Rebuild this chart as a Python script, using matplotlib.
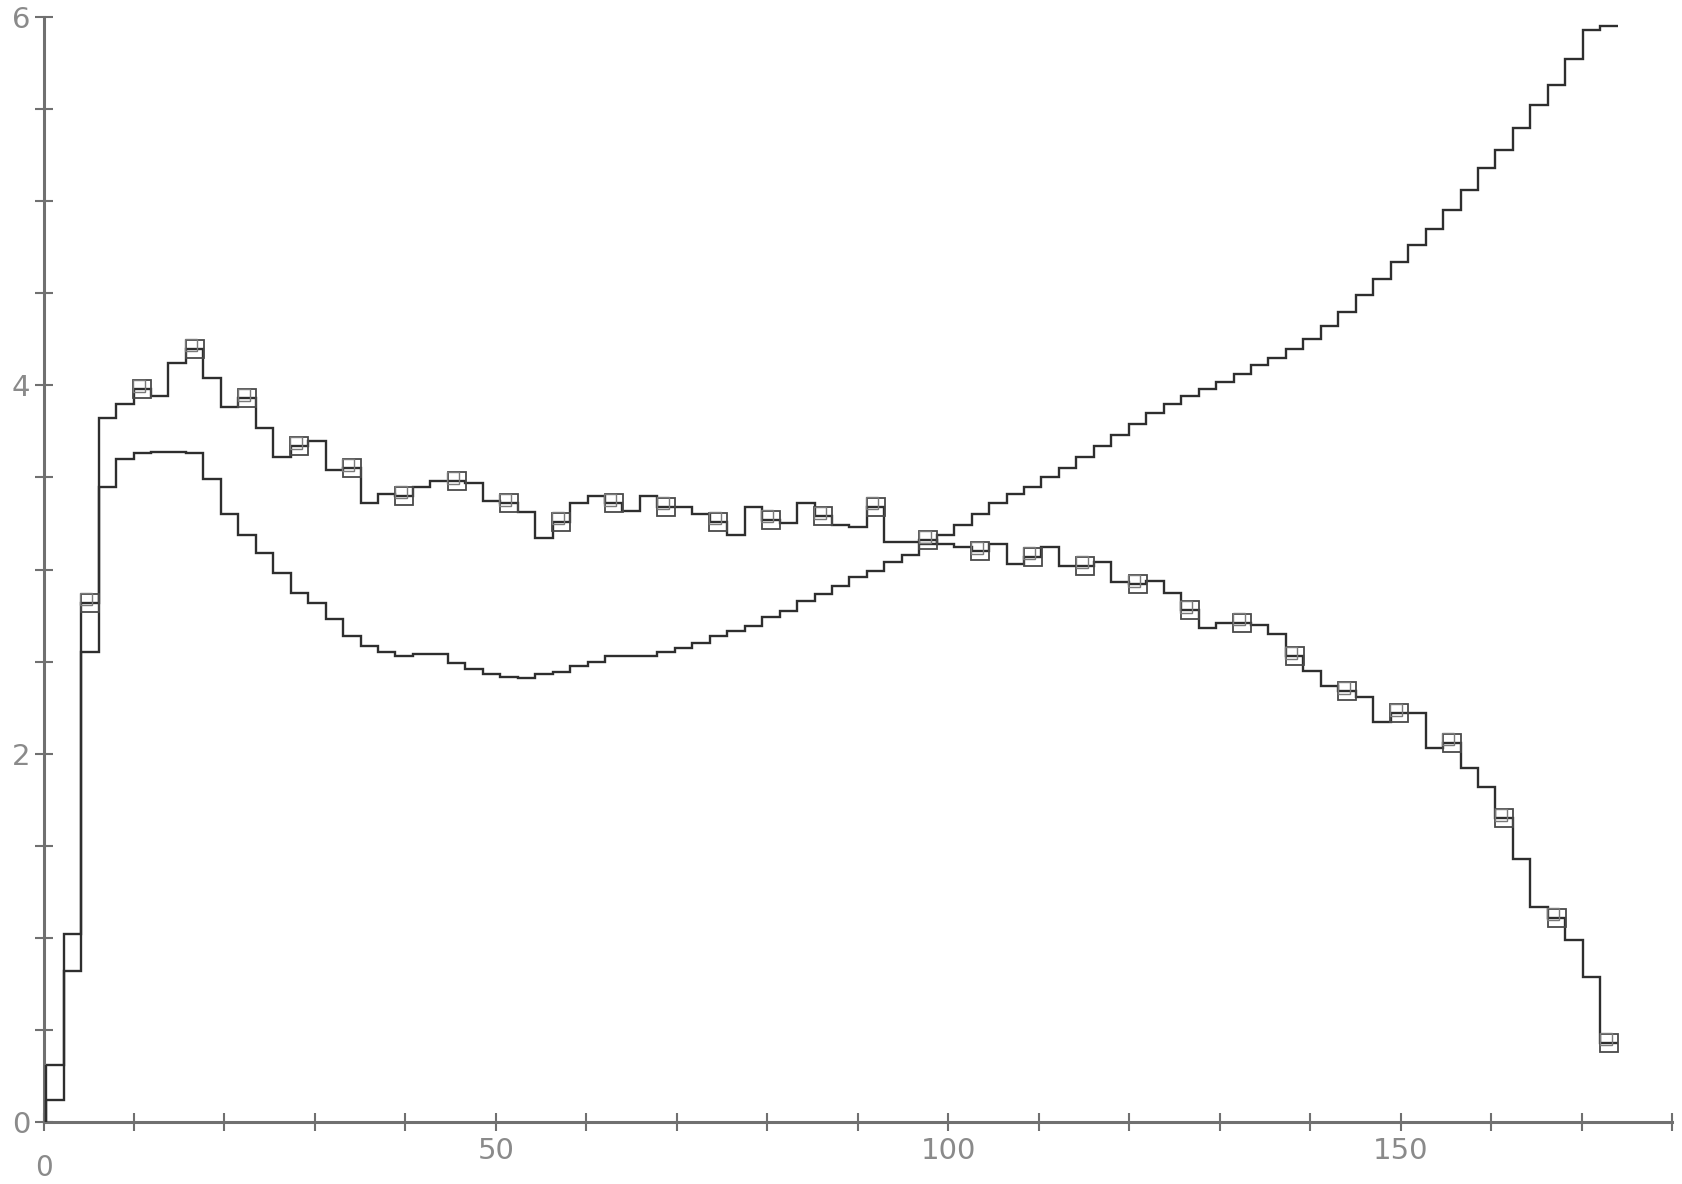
import numpy as np
import matplotlib
matplotlib.use("Agg")
import matplotlib.pyplot as plt
import matplotlib.transforms as mtransforms

# bin contents (90 bins, same binning for both)
# upper histogram, drawn with square markers on every third bin
upper = [0.31, 1.02, 2.82, 3.82, 3.90, 3.98, 3.94, 4.12, 4.20, 4.04,
         3.88, 3.93, 3.77, 3.61, 3.67, 3.70, 3.54, 3.55, 3.36, 3.41,
         3.40, 3.45, 3.48, 3.48, 3.47, 3.37, 3.36, 3.31, 3.17, 3.26,
         3.36, 3.40, 3.36, 3.32, 3.40, 3.34, 3.34, 3.30, 3.26, 3.19,
         3.34, 3.27, 3.25, 3.36, 3.29, 3.24, 3.23, 3.34, 3.15, 3.15,
         3.16, 3.14, 3.12, 3.10, 3.14, 3.03, 3.07, 3.12, 3.02, 3.02,
         3.04, 2.93, 2.92, 2.94, 2.87, 2.78, 2.68, 2.71, 2.71, 2.70,
         2.65, 2.53, 2.45, 2.37, 2.34, 2.31, 2.17, 2.22, 2.22, 2.03,
         2.06, 1.92, 1.82, 1.65, 1.43, 1.17, 1.11, 0.99, 0.79, 0.43]

# lower histogram (dips to ~2.4, then climbs to ~6)
lower = [0.12, 0.82, 2.55, 3.45, 3.60, 3.63, 3.64, 3.64, 3.63, 3.49,
         3.30, 3.19, 3.09, 2.98, 2.875, 2.82, 2.73, 2.64, 2.585, 2.55,
         2.53, 2.54, 2.54, 2.495, 2.46, 2.43, 2.417, 2.41, 2.43, 2.446,
         2.477, 2.50, 2.53, 2.53, 2.53, 2.55, 2.576, 2.603, 2.64, 2.667,
         2.694, 2.74, 2.775, 2.83, 2.866, 2.91, 2.957, 2.99, 3.04, 3.08,
         3.14, 3.19, 3.24, 3.30, 3.36, 3.41, 3.45, 3.50, 3.55, 3.61,
         3.67, 3.73, 3.79, 3.85, 3.90, 3.94, 3.98, 4.02, 4.06, 4.11,
         4.15, 4.20, 4.25, 4.32, 4.40, 4.49, 4.58, 4.67, 4.76, 4.85,
         4.95, 5.06, 5.18, 5.28, 5.40, 5.52, 5.63, 5.77, 5.93, 5.95]

first_edge = 0.3
last_edge = 174.0
mark_from = 2
mark_every = 3

x_labels = {0: "", 50: "50", 100: "100", 150: "150"}
y_labels = {0: "0", 2: "2", 4: "4", 6: "6"}

edges = np.linspace(first_edge, last_edge, len(upper) + 1)
centers = 0.5 * (edges[:-1] + edges[1:])

line_col = "#2e2e2e"
axis_col = "#707070"
text_col = "#8a8a8a"

fig = plt.figure(figsize=(16.83, 11.84), dpi=100)
ax = fig.add_axes([0.02585, 0.05236, 0.96761, 0.93328])

for vals in (upper, lower):
    ax.stairs(vals, edges, baseline=None, color=line_col, lw=1.7, zorder=3)
    ax.vlines(edges[0], 0, vals[0], color=line_col, lw=1.7, zorder=3)

# plotter-style double squares on every third bin of the upper curve
mx = centers[mark_from::mark_every]
my = np.array(upper)[mark_from::mark_every]
ax.plot(mx, my, "s", ms=13, mfc="none", mec="#4a4a4a", mew=1.3,
        zorder=4, clip_on=False)
shift = mtransforms.offset_copy(ax.transData, fig=fig, x=-2.5, y=2.5,
                                units="points")
ax.plot(mx, my, "s", ms=8.5, mfc="none", mec="#7a7a7a", mew=1.0,
        zorder=4, clip_on=False, transform=shift)

ax.set_xlim(0, 180)
ax.set_ylim(0, 6)

for side in ("top", "right"):
    ax.spines[side].set_visible(False)
for side in ("left", "bottom"):
    ax.spines[side].set_color(axis_col)
    ax.spines[side].set_linewidth(2.2)

xt = np.arange(0, 181, 10)
ax.set_xticks(xt)
ax.set_xticklabels([x_labels.get(int(v), "") for v in xt])
yt = np.arange(0, 6.01, 0.5)
ax.set_yticks(yt)
ax.set_yticklabels([y_labels.get(v, "") if float(v).is_integer() else "" for v in yt])

ax.tick_params(direction="inout", length=13, width=1.5, color=axis_col,
               labelcolor=text_col, labelsize=21)
ax.tick_params(axis="x", pad=4)
ax.tick_params(axis="y", pad=3)

# the origin's x label sits lower than the others
ax.annotate("0", xy=(0, 0), xytext=(0, -33), textcoords="offset points",
            ha="center", va="center", fontsize=20, color=text_col,
            annotation_clip=False)

fig.savefig("out.png", dpi=100, facecolor="white")
